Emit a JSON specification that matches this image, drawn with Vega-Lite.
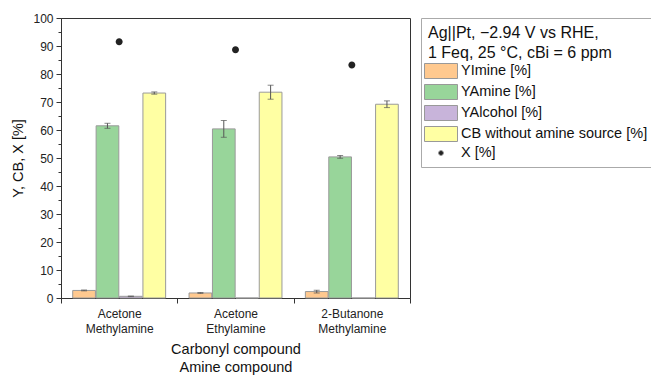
{
  "$schema": "https://vega.github.io/schema/vega-lite/v6.json",
  "width": 349,
  "height": 280,
  "autosize": {"type": "none"},
  "padding": {"left": 61, "top": 18, "right": 241, "bottom": 77},
  "background": "white",
  "config": {
    "font": "Liberation Sans",
    "view": {"stroke": "#333333", "strokeWidth": 1}
  },
  "datasets": {
    "bars": [
      {"group": "Acetone|Methylamine", "series": "YImine [%]", "value": 2.7},
      {"group": "Acetone|Methylamine", "series": "YAmine [%]", "value": 61.5},
      {"group": "Acetone|Methylamine", "series": "YAlcohol [%]", "value": 0.6},
      {"group": "Acetone|Methylamine", "series": "CB without amine source [%]", "value": 73.2},
      {"group": "Acetone|Ethylamine", "series": "YImine [%]", "value": 1.8},
      {"group": "Acetone|Ethylamine", "series": "YAmine [%]", "value": 60.4},
      {"group": "Acetone|Ethylamine", "series": "YAlcohol [%]", "value": 0},
      {"group": "Acetone|Ethylamine", "series": "CB without amine source [%]", "value": 73.5},
      {"group": "2-Butanone|Methylamine", "series": "YImine [%]", "value": 2.3},
      {"group": "2-Butanone|Methylamine", "series": "YAmine [%]", "value": 50.4},
      {"group": "2-Butanone|Methylamine", "series": "YAlcohol [%]", "value": 0},
      {"group": "2-Butanone|Methylamine", "series": "CB without amine source [%]", "value": 69.2}
    ],
    "errs": [
      {"group": "Acetone|Methylamine", "series": "YImine [%]", "lo": 2.55, "hi": 2.85},
      {"group": "Acetone|Methylamine", "series": "YAmine [%]", "lo": 60.6, "hi": 62.4},
      {"group": "Acetone|Methylamine", "series": "YAlcohol [%]", "lo": 0.5, "hi": 0.7},
      {"group": "Acetone|Methylamine", "series": "CB without amine source [%]", "lo": 72.8, "hi": 73.6},
      {"group": "Acetone|Ethylamine", "series": "YImine [%]", "lo": 1.65, "hi": 1.95},
      {"group": "Acetone|Ethylamine", "series": "YAmine [%]", "lo": 57.4, "hi": 63.4},
      {"group": "Acetone|Ethylamine", "series": "CB without amine source [%]", "lo": 71.0, "hi": 76.0},
      {"group": "2-Butanone|Methylamine", "series": "YImine [%]", "lo": 1.8, "hi": 2.8},
      {"group": "2-Butanone|Methylamine", "series": "YAmine [%]", "lo": 49.9, "hi": 50.9},
      {"group": "2-Butanone|Methylamine", "series": "CB without amine source [%]", "lo": 68.0, "hi": 70.4}
    ],
    "conv": [
      {"group": "Acetone|Methylamine", "series": "X [%]", "value": 91.5},
      {"group": "Acetone|Ethylamine", "series": "X [%]", "value": 88.7},
      {"group": "2-Butanone|Methylamine", "series": "X [%]", "value": 83.2}
    ]
  },
  "encoding": {
    "x": {
      "field": "group",
      "type": "nominal",
      "sort": ["Acetone|Methylamine", "Acetone|Ethylamine", "2-Butanone|Methylamine"],
      "scale": {"paddingInner": 0, "paddingOuter": 0},
      "axis": {
        "title": ["Carbonyl compound", "Amine compound"],
        "titleFont": "Liberation Sans",
        "titleFontSize": 14.5,
        "titleFontWeight": "normal",
        "titleColor": "#111111",
        "titleLineHeight": 18,
        "titlePadding": 8,
        "labelExpr": "split(datum.label, '|')",
        "labelAngle": 0,
        "labelFontSize": 12,
        "labelColor": "#222222",
        "labelPadding": 5,
        "labelLineHeight": 15,
        "tickBand": "extent",
        "tickSize": 5,
        "tickColor": "#333333",
        "domainColor": "#333333"
      }
    },
    "y": {
      "type": "quantitative",
      "scale": {"domain": [0, 100], "nice": false},
      "axis": {
        "title": "Y, CB, X [%]",
        "titleFontSize": 14.5,
        "titleFontWeight": "normal",
        "titleColor": "#111111",
        "titlePadding": 7,
        "values": [0, 5, 10, 15, 20, 25, 30, 35, 40, 45, 50, 55, 60, 65, 70, 75, 80, 85, 90, 95, 100],
        "labelExpr": "datum.value % 10 === 0 ? datum.label : ''",
        "tickSize": {"condition": {"test": "datum.value % 10 === 0", "value": 5}, "value": 3},
        "labelFontSize": 12,
        "labelColor": "#222222",
        "labelPadding": 3,
        "tickColor": "#333333",
        "domainColor": "#333333",
        "grid": false
      }
    }
  },
  "layer": [
    {
      "data": {"name": "bars"},
      "mark": {"type": "bar", "stroke": "#9a9a9a", "strokeWidth": 1},
      "encoding": {
        "xOffset": {
          "field": "series",
          "type": "nominal",
          "scale": {
            "domain": ["YImine [%]", "YAmine [%]", "YAlcohol [%]", "CB without amine source [%]"],
            "paddingInner": 0.03,
            "paddingOuter": 0.5
          }
        },
        "y": {"field": "value", "type": "quantitative"},
        "color": {
          "field": "series",
          "type": "nominal",
          "scale": {
            "domain": ["YImine [%]", "YAmine [%]", "YAlcohol [%]", "CB without amine source [%]", "X [%]"],
            "range": ["#FFC98F", "#98D59A", "#C8B4DA", "#FFFFA3", "#222222"]
          },
          "legend": {
            "title": ["Ag||Pt, −2.94 V vs RHE,", "1 Feq, 25 °C, cBi = 6 ppm"],
            "titleFontSize": 16,
            "titleFontWeight": "normal",
            "titleColor": "#111111",
            "titleLineHeight": 20,
            "titlePadding": 2,
            "titleLimit": 400,
            "labelFontSize": 14.5,
            "labelColor": "#111111",
            "labelLimit": 300,
            "symbolSize": 225,
            "symbolOffset": 5,
            "symbolStrokeColor": "#999999",
            "symbolStrokeWidth": 1,
            "labelOffset": 12,
            "rowPadding": 1,
            "strokeColor": "#aaaaaa",
            "padding": 7,
            "offset": 11,
            "orient": "right"
          }
        }
      }
    },
    {
      "data": {"name": "errs"},
      "mark": {"type": "rule", "color": "#555555", "strokeWidth": 1},
      "encoding": {
        "xOffset": {"field": "series", "type": "nominal"},
        "y": {"field": "lo", "type": "quantitative"},
        "y2": {"field": "hi"}
      }
    },
    {
      "data": {"name": "errs"},
      "mark": {"type": "tick", "color": "#555555", "thickness": 1, "size": 6},
      "encoding": {
        "xOffset": {"field": "series", "type": "nominal"},
        "y": {"field": "lo", "type": "quantitative"}
      }
    },
    {
      "data": {"name": "errs"},
      "mark": {"type": "tick", "color": "#555555", "thickness": 1, "size": 6},
      "encoding": {
        "xOffset": {"field": "series", "type": "nominal"},
        "y": {"field": "hi", "type": "quantitative"}
      }
    },
    {
      "data": {"name": "conv"},
      "mark": {"type": "point", "filled": true, "opacity": 1, "size": 450},
      "encoding": {
        "y": {"field": "value", "type": "quantitative"},
        "color": {"field": "series", "type": "nominal"},
        "shape": {
          "field": "series",
          "type": "nominal",
          "scale": {
            "domain": ["YImine [%]", "YAmine [%]", "YAlcohol [%]", "CB without amine source [%]", "X [%]"],
            "range": [
              "M-2.2,-1H2.2V1H-2.2Z",
              "M-2.2,-1H2.2V1H-2.2Z",
              "M-2.2,-1H2.2V1H-2.2Z",
              "M-2.2,-1H2.2V1H-2.2Z",
              "M-0.33,0A0.33,0.33,0,1,0,0.33,0A0.33,0.33,0,1,0,-0.33,0Z"
            ]
          }
        }
      }
    }
  ]
}
